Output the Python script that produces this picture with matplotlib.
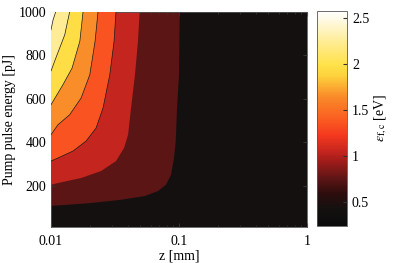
import numpy as np
import matplotlib
matplotlib.use("Agg")
import matplotlib.pyplot as plt
from matplotlib.colors import LinearSegmentedColormap, Normalize
from matplotlib.cm import ScalarMappable

plt.rcParams['font.family'] = ['Liberation Serif', 'DejaVu Serif']
plt.rcParams['mathtext.fontset'] = 'stix'

# contour levels (eV) and the value range of the colour scale
levels = [0.6, 0.9, 1.2, 1.5, 1.8, 2.1, 2.4]
vmin, vmax = 0.24, 2.58

# boundaries of each level: z [mm] and pump energy [pJ]
bnd_z = [
    [0.0100, 0.0128, 0.0205, 0.0352, 0.0540, 0.0685, 0.0791, 0.0866, 0.0914, 0.0943, 0.0965, 0.1000, 0.1013],
    [0.0100, 0.01134, 0.0172, 0.0246, 0.0322, 0.0372, 0.0400, 0.0422, 0.0453, 0.0478, 0.0493],
    [0.0100, 0.01134, 0.01486, 0.0188, 0.0225, 0.0255, 0.0288, 0.0311, 0.0322],
    [0.0100, 0.01134, 0.0140, 0.0172, 0.0201, 0.0221, 0.0233],
    [0.0100, 0.0124, 0.0146, 0.0168, 0.0178],
    [0.0100, 0.0109, 0.0128, 0.0140],
    [0.0100, 0.01037, 0.0109],
]
bnd_E = [
    [107, 111, 120, 135, 152, 175, 204, 250, 327, 405, 557, 710, 1000],
    [204, 212, 235, 267, 313, 373, 434, 557, 710, 864, 1000],
    [313, 327, 359, 405, 465, 557, 710, 864, 1000],
    [434, 480, 526, 603, 710, 864, 1000],
    [572, 664, 740, 864, 1000],
    [727, 786, 893, 1000],
    [916, 961, 1000],
]

xticks = [0.01, 0.1, 1]
xticklabels = ['0.01', '0.1', '1']
yticks = [200, 400, 600, 800, 1000]
cticks = [0.5, 1, 1.5, 2, 2.5]
cticklabels = ['0.5', '1', '1.5', '2', '2.5']

cmap = LinearSegmentedColormap.from_list('hotish', [
    (0.00, '#0b0b0b'),
    (0.08, '#151010'),
    (0.15, '#2e0d0d'),
    (0.22, '#5e1515'),
    (0.30, '#a01c1a'),
    (0.35, '#c8261e'),
    (0.42, '#f3381e'),
    (0.50, '#fb5f21'),
    (0.60, '#f98a29'),
    (0.70, '#fdd23c'),
    (0.75, '#ffe24a'),
    (0.85, '#ffeb8e'),
    (0.95, '#fff8dc'),
    (1.00, '#ffffff'),
])
norm = Normalize(vmin, vmax)

fig = plt.figure(figsize=(3.96, 2.63), dpi=100)
ax = fig.add_axes([0.1288, 0.137, 0.6465, 0.819])
cax = fig.add_axes([0.8005, 0.141, 0.076, 0.817])

edges = [vmin] + levels + [vmax]
mids = [(edges[i] + edges[i + 1]) / 2 for i in range(len(edges) - 1)]
ax.set_facecolor(cmap(norm(mids[0])))
for k in range(len(levels)):
    zs = list(bnd_z[k]) + [xticks[0]]
    Es = list(bnd_E[k]) + [1000]
    ax.fill(zs, Es, color=cmap(norm(mids[k + 1])), lw=0, zorder=1 + k)
for k in range(2, len(levels)):
    ax.plot(bnd_z[k], bnd_E[k], color='#1a1a1a', lw=0.5, zorder=20)

ax.set_xscale('log')
ax.set_xlim(0.01, 1)
ax.set_ylim(10, 1000)
ax.set_xticks(xticks)
ax.set_xticklabels(xticklabels)
ax.set_yticks(yticks)
ax.tick_params(which='both', direction='in', top=True, right=True, labelsize=10,
               color='#333333')
ax.tick_params(which='major', length=3)
ax.tick_params(which='minor', length=1.5)
ax.tick_params(axis='x', pad=6)
for s in ax.spines.values():
    s.set_color('#555555')
    s.set_linewidth(0.6)
ax.set_xlabel('z [mm]', fontsize=10, labelpad=1)
ax.set_ylabel('Pump pulse energy [pJ]', fontsize=10, labelpad=2)

cb = fig.colorbar(ScalarMappable(norm=norm, cmap=cmap), cax=cax)
cb.set_ticks(cticks)
cb.set_ticklabels(cticklabels)
cax.tick_params(direction='in', labelsize=10, length=3, color='#333333')
cb.outline.set_linewidth(0.6)
cb.outline.set_edgecolor('#555555')
cb.set_label(r'$\varepsilon_{\mathrm{f,c}}$ [eV]', fontsize=10, labelpad=2)

fig.savefig('out.png', dpi=100)
